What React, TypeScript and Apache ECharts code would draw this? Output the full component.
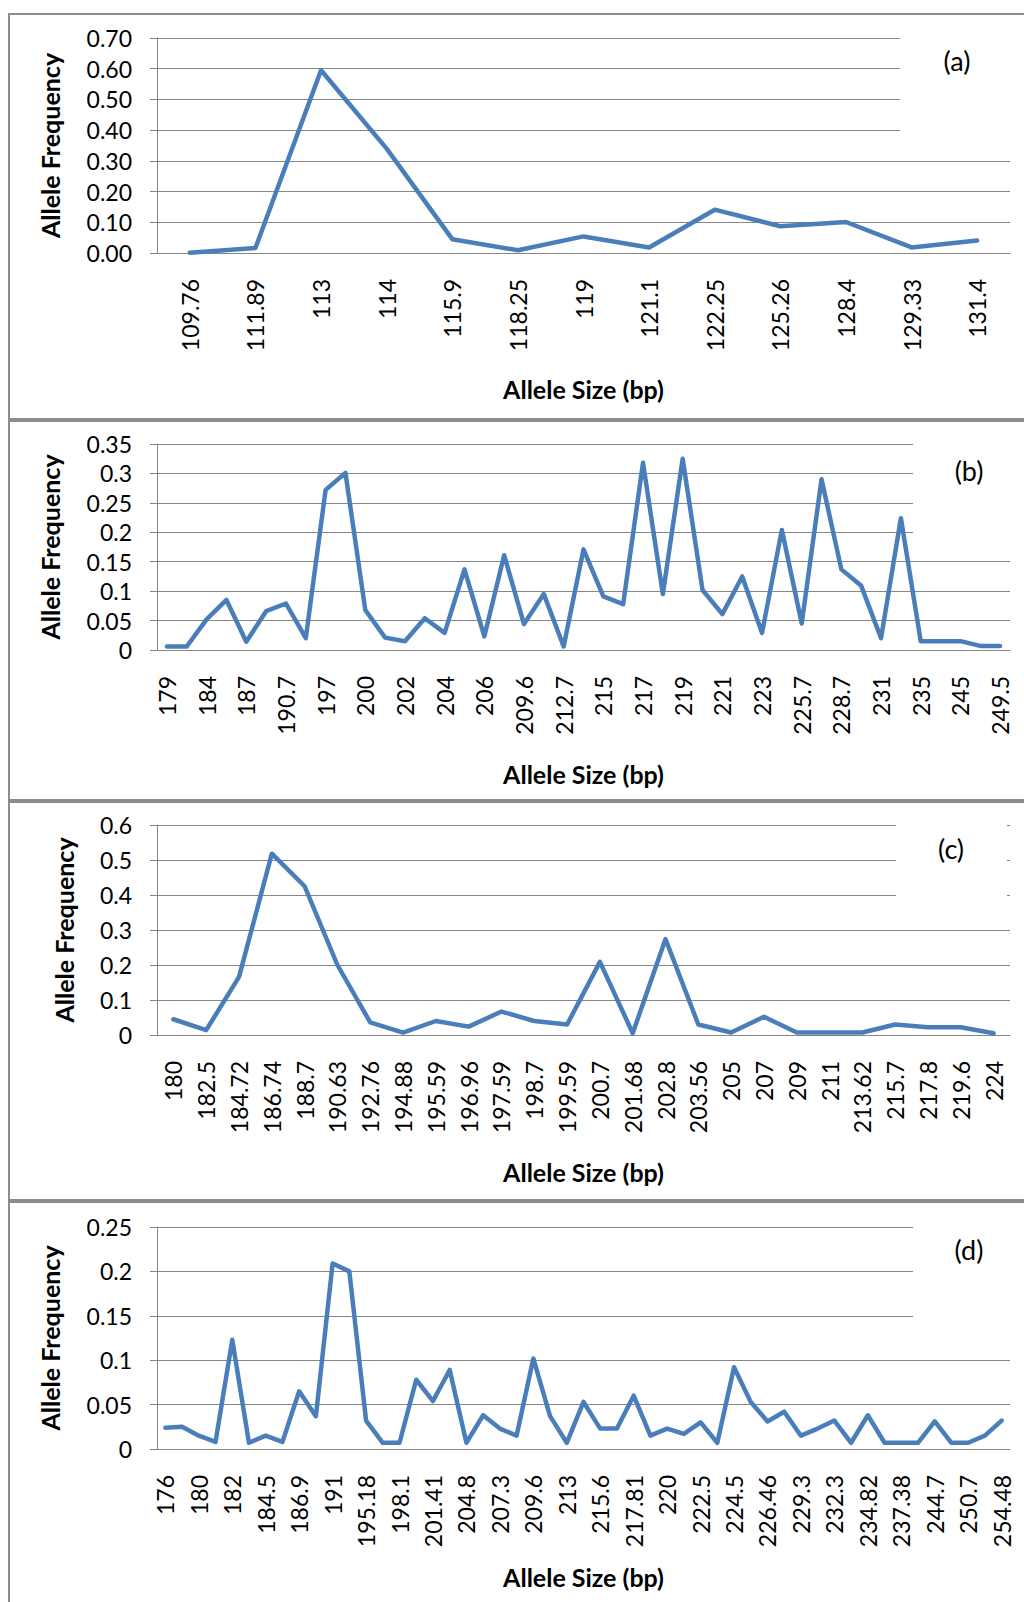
import React, { useEffect, useRef } from "react";
import * as echarts from "echarts";

// ---------- data ----------
const catsA = ["109.76", "111.89", "113", "114", "115.9", "118.25", "119", "121.1", "122.25", "125.26", "128.4", "129.33", "131.4"];
const valsA = [0.001, 0.016, 0.595, 0.34, 0.045, 0.009, 0.054, 0.018, 0.141, 0.087, 0.101, 0.018, 0.041];

const catsB = ["179", "181", "184", "185", "187", "189", "190.7", "193", "197", "198", "200", "201", "202", "203", "204", "205", "206", "208", "209.6", "211", "212.7", "214", "215", "216", "217", "218", "219", "220", "221", "222", "223", "224", "225.7", "227", "228.7", "230", "231", "233", "235", "240", "245", "247", "249.5"];
const valsB = [0.006, 0.006, 0.052, 0.085, 0.014, 0.066, 0.079, 0.02, 0.272, 0.301, 0.068, 0.021, 0.015, 0.054, 0.029, 0.137, 0.023, 0.161, 0.044, 0.095, 0.006, 0.171, 0.091, 0.078, 0.318, 0.095, 0.325, 0.102, 0.061, 0.125, 0.029, 0.204, 0.045, 0.29, 0.137, 0.109, 0.02, 0.224, 0.015, 0.015, 0.015, 0.007, 0.007];

const catsC = ["180", "182.5", "184.72", "186.74", "188.7", "190.63", "192.76", "194.88", "195.59", "196.96", "197.59", "198.7", "199.59", "200.7", "201.68", "202.8", "203.56", "205", "207", "209", "211", "213.62", "215.7", "217.8", "219.6", "224"];
const valsC = [0.045, 0.014, 0.166, 0.518, 0.425, 0.2, 0.036, 0.007, 0.04, 0.024, 0.067, 0.04, 0.03, 0.209, 0.005, 0.274, 0.03, 0.007, 0.052, 0.007, 0.007, 0.007, 0.03, 0.022, 0.022, 0.005];

const catsD = ["176", "178", "180", "181", "182", "183", "184.5", "185.7", "186.9", "188.9", "191", "193", "195.18", "196.6", "198.1", "199.8", "201.41", "203.1", "204.8", "206", "207.3", "208.4", "209.6", "211.3", "213", "214.3", "215.6", "216.7", "217.81", "218.9", "220", "221.2", "222.5", "223.5", "224.5", "225.5", "226.46", "227.9", "229.3", "230.8", "232.3", "233.6", "234.82", "236.1", "237.38", "241", "244.7", "247.7", "250.7", "252.6", "254.48"];
const valsD = [0.024, 0.025, 0.015, 0.008, 0.123, 0.007, 0.015, 0.008, 0.065, 0.037, 0.209, 0.2, 0.032, 0.007, 0.007, 0.078, 0.054, 0.089, 0.007, 0.038, 0.023, 0.015, 0.102, 0.037, 0.007, 0.053, 0.023, 0.023, 0.06, 0.015, 0.023, 0.017, 0.03, 0.007, 0.092, 0.053, 0.031, 0.042, 0.015, 0.023, 0.032, 0.007, 0.038, 0.007, 0.007, 0.007, 0.031, 0.007, 0.007, 0.015, 0.032];

const yMax = [0.7, 0.35, 0.6, 0.25];
const yStep = [0.1, 0.05, 0.1, 0.05];
const panelTags = ["(a)", "(b)", "(c)", "(d)"];
const yTitle = "Allele Frequency";
const xTitle = "Allele Size (bp)";

// ---------- layout ----------
const FONT = "Lato, 'Open Sans', sans-serif";
const GRID_COLOR = "#868686";
const FRAME_COLOR = "#8c8c8c";
const LINE_COLOR = "#4A7EBB";

const layout = [
  { top: 38, height: 215, labelInterval: 0, yGap: 95, xGap: 123, tagX: 957, tagY: 60, box: [900, 25, 112, 118] },
  { top: 444, height: 206, labelInterval: 1, yGap: 95, xGap: 111, tagX: 969, tagY: 470, box: [913, 430, 99, 117] },
  { top: 825, height: 210, labelInterval: 0, yGap: 81, xGap: 124, tagX: 951, tagY: 848, box: [896, 810, 111, 102] },
  { top: 1227, height: 222, labelInterval: 1, yGap: 95, xGap: 115, tagX: 969, tagY: 1249, box: [913, 1212, 99, 124] },
];

export default function App() {
  const ref = useRef<HTMLDivElement>(null);

  useEffect(() => {
    document.body.style.margin = "0";
    document.body.style.overflow = "hidden";
    const chart = echarts.init(ref.current!, null, { renderer: "svg" });

    const cats = [catsA, catsB, catsC, catsD];
    const vals = [valsA, valsB, valsC, valsD];

    const grids = layout.map((l) => ({ left: 157, right: 14, top: l.top, height: l.height, containLabel: false }));

    const xAxes = layout.map((l, i) => ({
      type: "category",
      gridIndex: i,
      data: cats[i],
      boundaryGap: true,
      axisLine: { show: true, lineStyle: { color: GRID_COLOR, width: 1 } },
      axisTick: { show: false },
      splitLine: { show: false },
      axisLabel: {
        interval: l.labelInterval,
        rotate: 90,
        margin: 26,
        fontFamily: FONT,
        fontSize: 23,
        color: "#000",
      },
      name: xTitle,
      nameLocation: "middle",
      nameGap: l.xGap,
      nameTextStyle: { fontFamily: FONT, fontSize: 25, fontWeight: "bold", color: "#000" },
    }));

    const yAxes = layout.map((l, i) => ({
      type: "value",
      gridIndex: i,
      min: 0,
      max: yMax[i],
      interval: yStep[i],
      axisLine: { show: true, lineStyle: { color: GRID_COLOR, width: 1 } },
      axisTick: { show: true, length: 7, lineStyle: { color: GRID_COLOR, width: 1 } },
      splitLine: { show: true, lineStyle: { color: GRID_COLOR, width: 1 } },
      axisLabel: {
        margin: 25,
        fontFamily: FONT,
        fontSize: 23,
        color: "#000",
        formatter: (v: number) => (i === 0 ? v.toFixed(2) : String(Number(v.toFixed(2)))),
      },
      name: yTitle,
      nameLocation: "middle",
      nameRotate: 90,
      nameGap: l.yGap,
      nameTextStyle: { fontFamily: FONT, fontSize: 25, fontWeight: "bold", color: "#000" },
    }));

    const series = layout.map((l, i) => ({
      type: "line",
      xAxisIndex: i,
      yAxisIndex: i,
      data: vals[i],
      showSymbol: false,
      symbol: "none",
      lineStyle: { color: LINE_COLOR, width: 4.5, cap: "round", join: "round" },
      z: 3,
    }));

    const graphics: any[] = [];
    layout.forEach((l, i) => {
      graphics.push({
        type: "rect",
        shape: { x: l.box[0], y: l.box[1], width: l.box[2], height: l.box[3] },
        style: { fill: "#ffffff" },
        z: 10,
      });
      graphics.push({
        type: "text",
        x: l.tagX,
        y: l.tagY,
        style: {
          text: panelTags[i],
          fontFamily: FONT,
          fontSize: 27,
          fill: "#000",
          textAlign: "center",
          textVerticalAlign: "middle",
        },
        z: 11,
      });
    });
    // frames
    graphics.push({ type: "rect", shape: { x: 8, y: 13, width: 2, height: 1600 }, style: { fill: FRAME_COLOR }, z: 12 });
    graphics.push({ type: "rect", shape: { x: 8, y: 13, width: 1020, height: 2 }, style: { fill: FRAME_COLOR }, z: 12 });
    [418, 799, 1199].forEach((y) =>
      graphics.push({ type: "rect", shape: { x: 8, y, width: 1020, height: 4 }, style: { fill: FRAME_COLOR }, z: 12 })
    );

    chart.setOption({
      animation: false,
      backgroundColor: "#ffffff",
      grid: grids,
      xAxis: xAxes,
      yAxis: yAxes,
      series,
      graphic: { elements: graphics },
    } as any);

    return () => chart.dispose();
  }, []);

  return <div ref={ref} style={{ width: 1024, height: 1602 }} />;
}
